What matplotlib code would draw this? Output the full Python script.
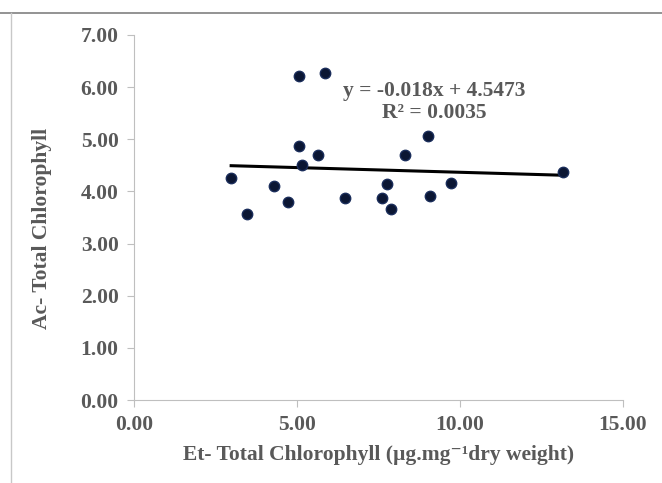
import numpy as np
import matplotlib
matplotlib.use("Agg")
import matplotlib.pyplot as plt
from matplotlib.lines import Line2D

plt.rcParams['font.family'] = ['Liberation Serif', 'DejaVu Serif']
plt.rcParams['font.weight'] = 'bold'

# Et vs Ac total chlorophyll
et_total = [2.98, 3.47, 4.29, 4.72, 5.06, 5.86, 5.06, 5.15, 5.64, 6.47,
            7.61, 7.76, 7.88, 8.31, 9.02, 9.08, 9.72, 13.16]
ac_total = [4.25, 3.56, 4.10, 3.79, 6.21, 6.27, 4.88, 4.50, 4.69, 3.88,
            3.88, 4.15, 3.67, 4.69, 5.06, 3.92, 4.17, 4.37]

slope, intercept = -0.018, 4.5473
r2 = 0.0035

x_ticks = [0, 5, 10, 15]
y_ticks = [0, 1, 2, 3, 4, 5, 6, 7]

grey = '#595959'
axis_col = '#bfbfbf'
fs = 15.5

fig = plt.figure(figsize=(6.62, 4.83), dpi=100)
ax = fig.add_axes([134 / 662, 1 - 400 / 483, 489 / 662, 365 / 483])

# trend line over the data range
xl = np.array([min(et_total), max(et_total)])
ax.plot(xl, slope * xl + intercept, color='black', lw=2.2, zorder=2)
ax.plot(et_total, ac_total, 'o', color='#0b1633', mec='#1a2d5a', ms=7.5, zorder=3)

ax.set_xlim(0, 15)
ax.set_ylim(0, 7)
ax.set_xticks(x_ticks)
ax.set_yticks(y_ticks)
ax.set_xticklabels(['%.2f' % v for v in x_ticks])
ax.set_yticklabels(['%.2f' % v for v in y_ticks])
ax.tick_params(direction='out', length=5, color=axis_col, labelcolor=grey,
               labelsize=fs, pad=6)
for s in ['top', 'right']:
    ax.spines[s].set_visible(False)
for s in ['left', 'bottom']:
    ax.spines[s].set_color(axis_col)

ax.set_xlabel('Et- Total Chlorophyll (µg.mg⁻¹dry weight)', color=grey,
              fontsize=fs, fontweight='bold', labelpad=7)
ax.set_ylabel('Ac- Total Chlorophyll', color=grey, fontsize=fs,
              fontweight='bold')
ax.yaxis.set_label_coords(-0.168, 0.47)

ax.text(9.2, 5.72, 'y = -0.018x + %.4f\nR² = %.4f' % (intercept, r2),
        ha='center', va='center', color=grey, fontsize=fs, fontweight='bold',
        linespacing=1.15)

# frame lines of the original screenshot
fig.add_artist(Line2D([0, 1], [1 - 13 / 483, 1 - 13 / 483], color='#808080',
                      lw=1.2, transform=fig.transFigure))
fig.add_artist(Line2D([11 / 662, 11 / 662], [0, 1 - 13 / 483], color='#c8c8c8',
                      lw=1.0, transform=fig.transFigure))

fig.savefig('out.png', dpi=100)
